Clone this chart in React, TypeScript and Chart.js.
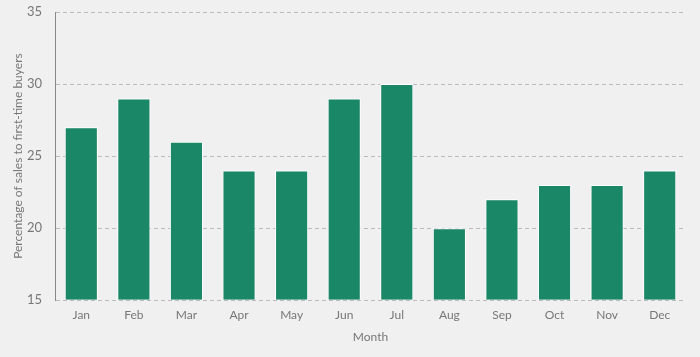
import React, { useEffect, useRef } from "react";
import { Chart, registerables } from "chart.js";

Chart.register(...registerables);

const months = ["Jan", "Feb", "Mar", "Apr", "May", "Jun", "Jul", "Aug", "Sep", "Oct", "Nov", "Dec"];
const shares = [27, 29, 26, 24, 24, 29, 30, 20, 22, 23, 23, 24];
const yTicks = [15, 20, 25, 30, 35];

export default function App() {
  const ref = useRef<HTMLCanvasElement | null>(null);
  useEffect(() => {
    document.body.style.margin = "0";
    document.body.style.background = "#f0f0f0";
    const ctx = ref.current!;
    const font = { family: "Lato", size: 12 };
    const chart = new Chart(ctx, {
      type: "bar",
      data: {
        labels: months,
        datasets: [
          {
            data: shares,
            backgroundColor: "#1a8766",
            borderColor: "#ffffff",
            borderWidth: 1,
            categoryPercentage: 0.7,
            barPercentage: 0.9,
            base: 15,
          },
        ],
      },
      options: {
        animation: false,
        responsive: false,
        maintainAspectRatio: false,
        layout: { padding: { top: 12, right: 14, left: 0, bottom: 13 } },
        plugins: { legend: { display: false }, tooltip: { enabled: false } },
        scales: {
          x: {
            grid: { display: false, drawTicks: false },
            border: { display: false },
            ticks: { color: "#777", font, padding: 8 },
            title: { display: true, text: "Month", color: "#777", font, padding: { top: -1, bottom: 0 } },
          },
          y: {
            min: 15,
            max: 35,
            afterBuildTicks: (axis: any) => {
              axis.ticks = yTicks.map((v) => ({ value: v }));
            },
            afterFit: (scale: any) => {
              scale.width = 55;
              scale.paddingTop = 0;
              scale.paddingBottom = 0;
            },
            grid: { color: "#bbbbbb", drawTicks: false },
            border: { display: true, color: "#888", dash: [4, 3] },
            ticks: { color: "#777", font: { family: "Lato", size: 13 }, padding: 13 },
            title: {
              display: true,
              text: "Percentage of sales to first-time buyers",
              color: "#777",
              font: { family: "Lato", size: 12 },
              padding: { top: 11, bottom: 0 },
            },
          },
        },
      },
    });
    return () => chart.destroy();
  }, []);
  return <canvas ref={ref} width={700} height={357} style={{ display: "block" }} />;
}
